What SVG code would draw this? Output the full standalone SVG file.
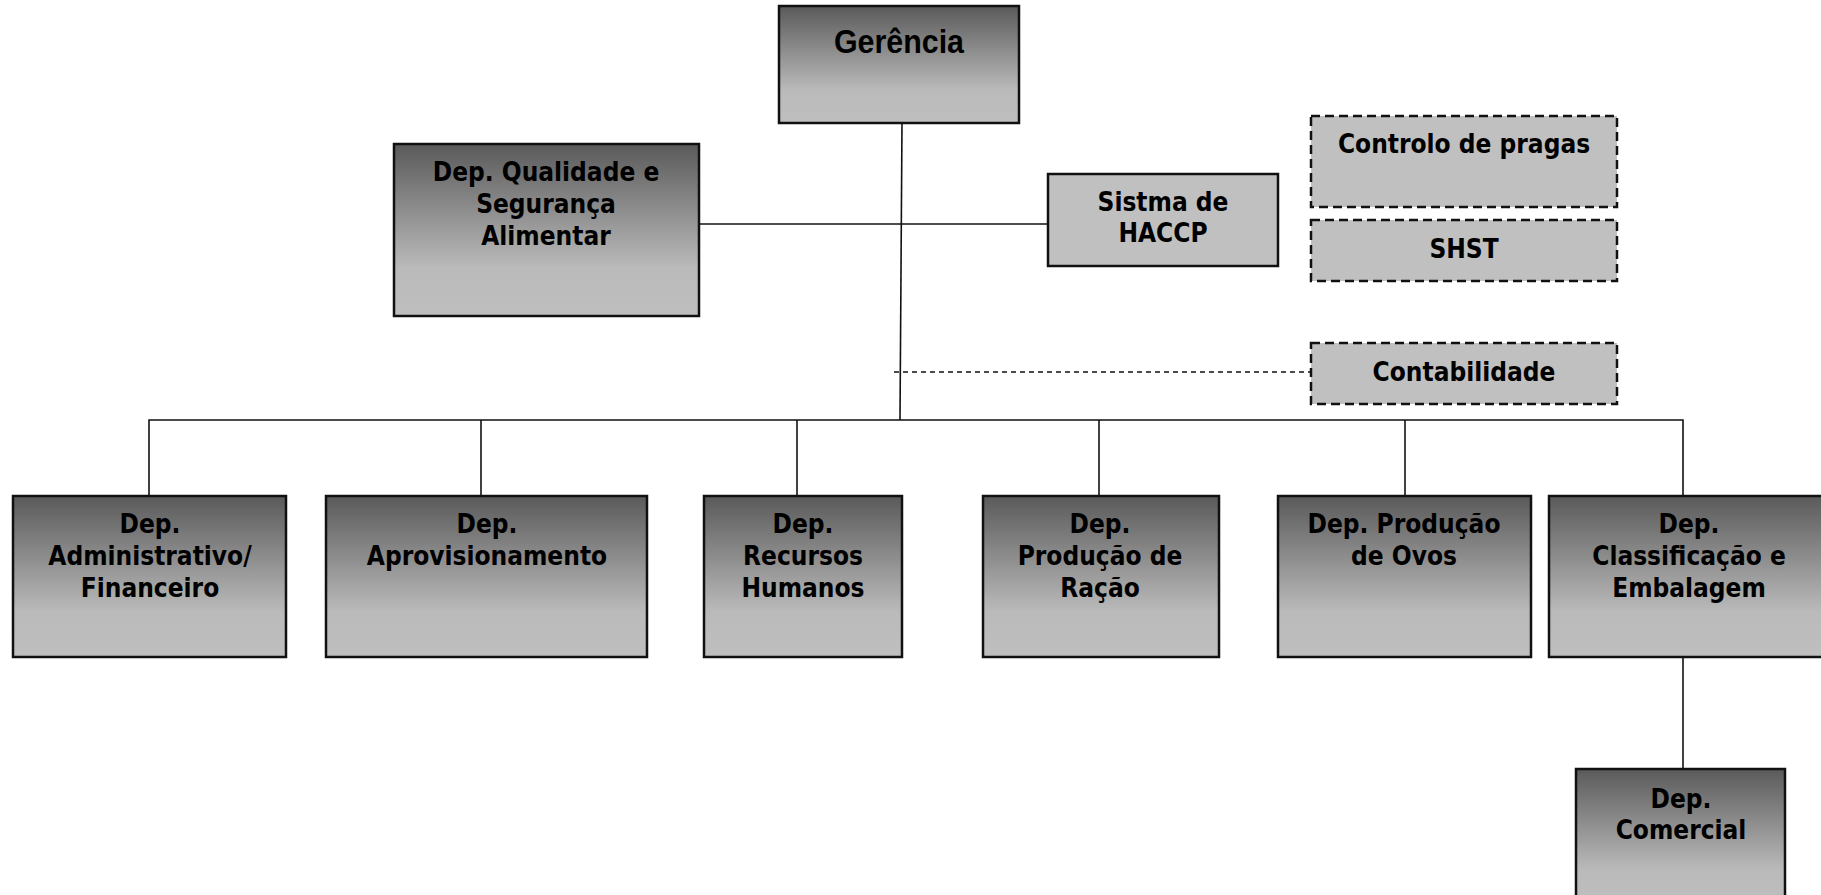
<svg xmlns="http://www.w3.org/2000/svg" width="1821" height="895" viewBox="0 0 1821 895">
<defs>
<linearGradient id="g" x1="0" y1="0" x2="0" y2="1">
<stop offset="0" stop-color="#5a5a5a"/>
<stop offset="0.72" stop-color="#bababa"/>
<stop offset="1" stop-color="#bfbfbf"/>
</linearGradient>
</defs>
<style>
.b{fill:url(#g);stroke:#111;stroke-width:2.5}
.f{fill:#c0c0c0;stroke:#111;stroke-width:2.5}
.d{fill:#c0c0c0;stroke:#111;stroke-width:2.5;stroke-dasharray:9 5}
.t{font-family:"DejaVu Sans Condensed","DejaVu Sans",Verdana,sans-serif;font-stretch:condensed;font-weight:bold;font-size:26px;text-anchor:middle;fill:#000}
.c{stroke:#111;stroke-width:1.6;fill:none}
.cd{stroke:#111;stroke-width:1.4;fill:none;stroke-dasharray:5 4}
</style>
<rect width="1821" height="895" fill="#fff"/>
<g id="connectors">
<line class="c" x1="902" y1="123" x2="900" y2="420"/>
<line class="c" x1="699" y1="224" x2="1048" y2="224"/>
<line class="cd" x1="894" y1="372" x2="1311" y2="372"/>
<polyline class="c" points="149,496 149,420 1683,420 1683,496"/>
<line class="c" x1="481" y1="420" x2="481" y2="496"/>
<line class="c" x1="797" y1="420" x2="797" y2="496"/>
<line class="c" x1="1099" y1="420" x2="1099" y2="496"/>
<line class="c" x1="1405" y1="420" x2="1405" y2="496"/>
<line class="c" x1="1683" y1="657" x2="1683" y2="769"/>
</g>
<g id="gerencia">
<rect class="b" x="779" y="6" width="240" height="117"/>
<text x="899" y="53" font-family="'Liberation Sans Narrow','Liberation Sans',Arial,sans-serif" font-weight="bold" font-size="34" text-anchor="middle" textLength="130" lengthAdjust="spacingAndGlyphs">Gerência</text>
</g>
<g id="qualidade">
<rect class="b" x="394" y="144" width="305" height="172"/>
<text class="t" x="546" y="181">Dep. Qualidade e</text>
<text class="t" x="546" y="213">Segurança</text>
<text class="t" x="546" y="245">Alimentar</text>
</g>
<g id="haccp">
<rect class="f" x="1048" y="174" width="230" height="92"/>
<text class="t" x="1163" y="211">Sistma de</text>
<text class="t" x="1163" y="242">HACCP</text>
</g>
<g id="pragas">
<rect class="d" x="1311" y="116" width="306" height="91"/>
<text class="t" x="1464" y="153">Controlo de pragas</text>
</g>
<g id="shst">
<rect class="d" x="1311" y="220" width="306" height="61"/>
<text class="t" x="1464" y="258">SHST</text>
</g>
<g id="contabilidade">
<rect class="d" x="1311" y="343" width="306" height="61"/>
<text class="t" x="1464" y="381">Contabilidade</text>
</g>
<g id="administrativo">
<rect class="b" x="13" y="496" width="273" height="161"/>
<text class="t" x="150" y="533">Dep.</text>
<text class="t" x="150" y="565">Administrativo/</text>
<text class="t" x="150" y="597">Financeiro</text>
</g>
<g id="aprovisionamento">
<rect class="b" x="326" y="496" width="321" height="161"/>
<text class="t" x="487" y="533">Dep.</text>
<text class="t" x="487" y="565">Aprovisionamento</text>
</g>
<g id="rh">
<rect class="b" x="704" y="496" width="198" height="161"/>
<text class="t" x="803" y="533">Dep.</text>
<text class="t" x="803" y="565">Recursos</text>
<text class="t" x="803" y="597">Humanos</text>
</g>
<g id="racao">
<rect class="b" x="983" y="496" width="236" height="161"/>
<text class="t" x="1100" y="533">Dep.</text>
<text class="t" x="1100" y="565">Produção de</text>
<text class="t" x="1100" y="597">Ração</text>
</g>
<g id="ovos">
<rect class="b" x="1278" y="496" width="253" height="161"/>
<text class="t" x="1404" y="533">Dep. Produção</text>
<text class="t" x="1404" y="565">de Ovos</text>
</g>
<g id="classificacao">
<rect class="b" x="1549" y="496" width="276" height="161"/>
<text class="t" x="1689" y="533">Dep.</text>
<text class="t" x="1689" y="565">Classificação e</text>
<text class="t" x="1689" y="597">Embalagem</text>
</g>
<g id="comercial">
<rect class="b" x="1576" y="769" width="209" height="140"/>
<text class="t" x="1681" y="808">Dep.</text>
<text class="t" x="1681" y="839">Comercial</text>
</g>
</svg>
